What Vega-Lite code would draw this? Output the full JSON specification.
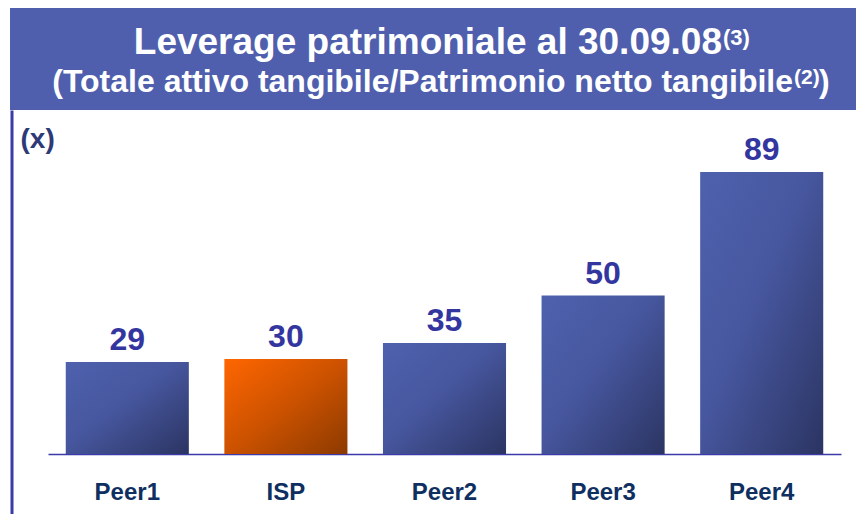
{
  "$schema": "https://vega.github.io/schema/vega-lite/v6.json",
  "padding": {"left": 10, "top": 8, "right": 0, "bottom": 0},
  "background": "white",
  "spacing": 0,
  "config": {"view": {"stroke": null}, "concat": {"spacing": 0}, "font": "Liberation Sans"},
  "vconcat": [
    {
      "width": 846,
      "height": 102,
      "view": {"fill": "#4F5FAD", "stroke": null},
      "data": {"values": [{"t1": "Leverage patrimoniale al 30.09.08", "s1": "(3)", "t2": "(Totale attivo tangibile/Patrimonio netto tangibile", "s2": "(2)", "c2": ")"}]},
      "layer": [
        {"mark": {"type": "text", "align": "right", "baseline": "alphabetic", "fontSize": 37, "fontWeight": "bold", "color": "white"},
         "encoding": {"text": {"field": "t1"}, "x": {"value": 712}, "y": {"value": 46}}},
        {"mark": {"type": "text", "align": "left", "baseline": "alphabetic", "fontSize": 22, "fontWeight": "bold", "color": "white"},
         "encoding": {"text": {"field": "s1"}, "x": {"value": 713}, "y": {"value": 37}}},
        {"mark": {"type": "text", "align": "right", "baseline": "alphabetic", "fontSize": 32, "fontWeight": "bold", "color": "white"},
         "encoding": {"text": {"field": "t2"}, "x": {"value": 783}, "y": {"value": 84}}},
        {"mark": {"type": "text", "align": "left", "baseline": "alphabetic", "fontSize": 21, "fontWeight": "bold", "color": "white"},
         "encoding": {"text": {"field": "s2"}, "x": {"value": 784}, "y": {"value": 76}}},
        {"mark": {"type": "text", "align": "left", "baseline": "alphabetic", "fontSize": 32, "fontWeight": "bold", "color": "white"},
         "encoding": {"text": {"field": "c2"}, "x": {"value": 809}, "y": {"value": 84}}}
      ]
    },
    {
      "width": 846,
      "height": 404,
      "data": {"values": [
        {"name": "Peer1", "value": 29},
        {"name": "ISP", "value": 30},
        {"name": "Peer2", "value": 35},
        {"name": "Peer3", "value": 50},
        {"name": "Peer4", "value": 89}
      ]},
      "encoding": {
        "x": {"field": "name", "type": "nominal", "sort": null,
              "scale": {"range": [38, 831], "paddingInner": 0.224, "paddingOuter": 0.112},
              "axis": {"orient": "bottom", "offset": -60, "domainColor": "#3A3AA8", "domainWidth": 1.5, "ticks": false,
                       "labelFontSize": 24, "labelFont": "Liberation Sans", "labelFontWeight": "bold", "labelColor": "#0E2F5F",
                       "labelPadding": 26, "labelAngle": 0, "title": null, "grid": false}},
        "y": {"field": "value", "type": "quantitative",
              "scale": {"domain": [-18.94, 108.57], "nice": false, "zero": false},
              "axis": {"orient": "left", "offset": -1.5, "domainColor": "#3A3AA8", "domainWidth": 3, "ticks": false, "labels": false, "grid": false,
                       "title": "(x)", "titleAngle": 0, "titleAlign": "left", "titleBaseline": "alphabetic", "titleX": 8.5, "titleY": 37,
                       "titleFontSize": 28, "titleFont": "Liberation Sans", "titleFontWeight": "bold", "titleColor": "#2E3A78"}}
      },
      "layer": [
        {"mark": {"type": "bar"},
         "encoding": {
           "y2": {"datum": 0},
           "color": {
             "condition": {"test": "datum.name === 'ISP'",
                           "value": {"gradient": "linear", "x1": 0, "y1": 0, "x2": 1, "y2": 1,
                                     "stops": [{"offset": 0, "color": "#FF6600"}, {"offset": 0.5, "color": "#CC5200"}, {"offset": 1, "color": "#8C3A00"}]}},
             "value": {"gradient": "linear", "x1": 0, "y1": 0, "x2": 1, "y2": 1,
                       "stops": [{"offset": 0, "color": "#4E61AD"}, {"offset": 0.45, "color": "#47579F"}, {"offset": 1, "color": "#2B3462"}]}
           }
         }},
        {"mark": {"type": "text", "dy": -12, "baseline": "alphabetic", "fontSize": 32, "fontWeight": "bold", "font": "Liberation Sans", "color": "#3436A0"},
         "encoding": {"text": {"field": "value", "type": "quantitative"}}}
      ]
    }
  ]
}
